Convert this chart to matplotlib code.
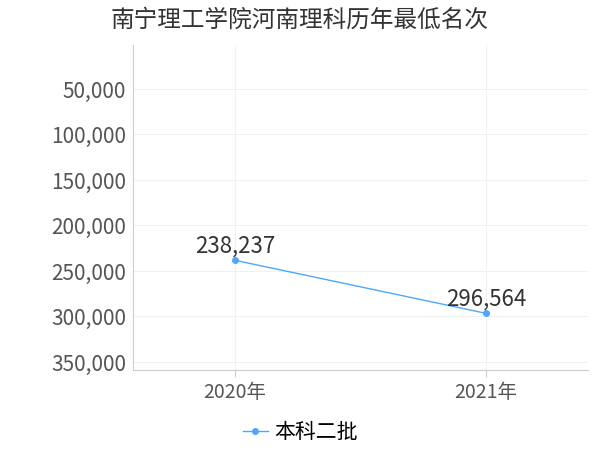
import matplotlib
matplotlib.use("Agg")
import matplotlib.pyplot as plt

plt.rcParams['font.family'] = ['Noto Sans CJK SC', 'DejaVu Sans']

years = ["2020年", "2021年"]
ranks = [238237, 296564]
series_name = "本科二批"
yticks = [50000, 100000, 150000, 200000, 250000, 300000, 350000]

fig = plt.figure(figsize=(6, 4.5), dpi=100)
ax = fig.add_axes([133/600, 1-370/450, (588-133)/600, (370-45)/450])

x = list(range(len(years)))
ax.plot(x, ranks, color="#4da6ff", lw=1, marker="o", ms=4, label=series_name)
for xi, v in zip(x, ranks):
    ax.text(xi, v - 3000, f"{v:,}", ha="center", va="bottom", fontsize=16, color="#333333")

ax.set_xlim(-0.406, 1.406)
ax.set_ylim(358800, 1650)
ax.set_xticks(x)
ax.set_xticklabels(years)
ax.set_yticks(yticks)
ax.set_yticklabels([f"{t:,}" for t in yticks])
ax.tick_params(axis="y", length=0, labelsize=15, labelcolor="#555555", pad=5)
ax.tick_params(axis="x", length=5, color="#cccccc", labelsize=14, labelcolor="#555555")
ax.grid(True, color="#f0f0f0", lw=0.8)
for s in ["top", "right"]:
    ax.spines[s].set_visible(False)
ax.spines["left"].set_color("#cccccc")
ax.spines["bottom"].set_color("#cccccc")

fig.text(0.5, 1-20/450, "南宁理工学院河南理科历年最低名次", ha="center", va="center", fontsize=17, color="#333333")
fig.legend(loc="center", bbox_to_anchor=(0.5, 1-432/450), frameon=False, fontsize=15, handlelength=1.2, handletextpad=0.3)

fig.savefig("out.png", dpi=100)
